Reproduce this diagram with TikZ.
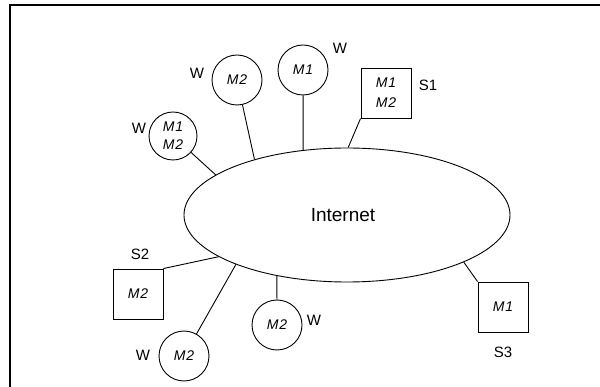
\documentclass[tikz,border=0pt]{standalone}
\usepackage{fontspec}
\setmainfont{Liberation Sans}
\usetikzlibrary{shapes.geometric}
\tikzset{
  wire/.style={line width=0.9pt},
  mtext/.style={font=\fontsize{14}{17}\selectfont\itshape\addfontfeature{LetterSpace=6}, align=center},
  host/.style={circle, draw, line width=0.9pt, minimum size=50pt, inner sep=0pt, mtext},
  server/.style={rectangle, draw, line width=0.9pt, minimum size=50pt, inner sep=0pt, mtext},
  tag/.style={inner sep=0pt, font=\fontsize{15}{15}\selectfont},
  cloud/.style={ellipse, draw, line width=0.9pt, minimum width=326pt, minimum height=134pt,
    inner sep=0pt, font=\fontsize{19}{19}\selectfont}
}
\begin{document}
\begin{tikzpicture}[x=1pt, y=-1pt]
\useasboundingbox (0,0) rectangle (600,387);
% outer frame (only top and left edges fall inside the page)
\draw[line width=2pt] (10,390) -- (10,5.5) -- (603,5.5);

% the network
\node[cloud] (net) at (347,215) {\hspace*{-8pt}Internet};

% workstations
\node[host] (wA) at (237,80) {M2};
\node[tag]  (wAl) at (197,73) {W};
\node[host] (wB) at (303,70) {M1};
\node[tag]  (wBl) at (340,48) {W};
\node[host, minimum size=48pt] (wC) at (173,136) {M1\\[1pt]M2};
\node[tag]  (wCl) at (139,128) {W};
\node[host] (wD) at (184,356) {M2};
\node[tag]  (wDl) at (143,355) {W};
\node[host] (wE) at (277,325) {M2};
\node[tag]  (wEl) at (314,320) {W};

% servers
\node[server] (s1) at (386,93) {M1\\[3pt]M2};
\node[tag]    (s1l) at (428,85) {S1};
\node[server] (s2) at (138,294) {M2};
\node[tag]    (s2l) at (140,254) {S2};
\node[server] (s3) at (503,307) {M1};
\node[tag]    (s3l) at (503,352) {S3};

% attachment points on the network border
\coordinate (pC) at (net.163);
\coordinate (pA) at (net.149.7);
\coordinate (pB) at (net.124.7);
\coordinate (p1) at (net.89.1);
\coordinate (p3) at (net.-22.2);
\coordinate (pE) at (net.221.5);
\coordinate (pD) at (net.204.6);
\coordinate (p2) at (net.198.3);

% links
\draw[wire] (wC) -- (pC);
\draw[wire] (wA) -- (pA);
\draw[wire] (wB) -- (pB);
\draw[wire] (s1.south west) -- (p1);
\draw[wire] (s3.north west) -- (p3);
\draw[wire] (wE) -- (pE);
\draw[wire] (wD) -- (pD);
\draw[wire] (s2.north east) -- (p2);
\end{tikzpicture}
\end{document}
